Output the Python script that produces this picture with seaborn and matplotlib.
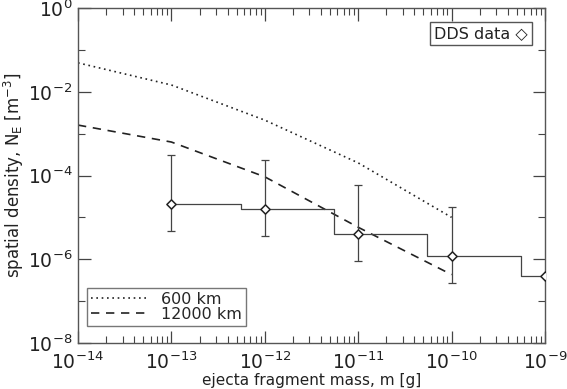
import numpy as np
import matplotlib
matplotlib.use("Agg")
import matplotlib.pyplot as plt
import matplotlib.ticker as mticker
import seaborn as sns

# model curves
model_mass = [1e-14, 1e-13, 1e-12, 1e-11, 1e-10]
dens_600km = [4.9e-2, 1.45e-2, 2.1e-3, 2.0e-4, 1.0e-5]
dens_12000km = [1.6e-3, 6.3e-4, 9.3e-5, 5.8e-6, 4.3e-7]

# DDS data points
dds_mass = [1e-13, 1e-12, 1e-11, 1e-10, 1e-9]
dds_dens = [2.1e-5, 1.6e-5, 4.0e-6, 1.18e-6, 4.0e-7]
dds_hi = [3.1e-4, 2.4e-4, 6.0e-5, 1.8e-5, 4.0e-7]
dds_lo = [4.8e-6, 3.5e-6, 8.9e-7, 2.7e-7, 4.0e-7]

# histogram steps
hist_edges = [1e-13, 5.5e-13, 5.5e-12, 5.5e-11, 5.5e-10, 1e-9]
hist_vals = [2.1e-5, 1.6e-5, 4.0e-6, 1.18e-6, 4.0e-7, 4.0e-7]

x_ticks = [1e-14, 1e-13, 1e-12, 1e-11, 1e-10, 1e-9]
y_ticks = [1e-8, 1e-6, 1e-4, 1e-2, 1]
y_minor = [1e-7, 1e-5, 1e-3, 1e-1]

sns.set_theme(style="ticks")
plt.rcParams["font.family"] = ["DejaVu Sans"]
plt.rcParams["mathtext.fontset"] = "dejavusans"

fig = plt.figure(figsize=(5.67, 3.89), dpi=100)
ax = fig.add_axes([78 / 567, 1 - 343 / 389, (545 - 78) / 567, (343 - 8) / 389])

ink = "#222222"
sns.lineplot(x=model_mass, y=dens_600km, ax=ax, color=ink, lw=1.2,
             linestyle=(0, (1, 2.2)), label="600 km")
sns.lineplot(x=model_mass, y=dens_12000km, ax=ax, color=ink, lw=1.2,
             linestyle=(0, (5, 4)), label="12000 km")

ax.plot(hist_edges, hist_vals, drawstyle="steps-post", color="#444444", lw=0.9)

yerr = [np.array(dds_dens) - np.array(dds_lo), np.array(dds_hi) - np.array(dds_dens)]
ax.errorbar(dds_mass, dds_dens, yerr=yerr, fmt="none", ecolor="#444444",
            elinewidth=0.9, capsize=3, capthick=0.9)
sns.scatterplot(x=dds_mass, y=dds_dens, ax=ax, marker="D", s=22,
                facecolor="white", edgecolor=ink, linewidth=1.1, zorder=5)

ax.set_xscale("log")
ax.set_yscale("log")
ax.set_xlim(1e-14, 1e-9)
ax.set_ylim(1e-8, 1)

ax.xaxis.set_major_locator(mticker.FixedLocator(x_ticks))
ax.xaxis.set_major_formatter(mticker.LogFormatterMathtext())
ax.xaxis.set_minor_locator(mticker.LogLocator(base=10, subs=np.arange(2, 10), numticks=20))
ax.xaxis.set_minor_formatter(mticker.NullFormatter())
ax.yaxis.set_major_locator(mticker.FixedLocator(y_ticks))
ax.yaxis.set_minor_locator(mticker.FixedLocator(y_minor))
ax.yaxis.set_minor_formatter(mticker.NullFormatter())
ax.yaxis.set_major_formatter(mticker.LogFormatterMathtext())

ax.tick_params(which="both", direction="in", top=True, right=True, colors="#444444",
               labelcolor=ink, labelsize=13.5)
ax.tick_params(which="major", length=9, width=0.9, pad=6)
ax.tick_params(axis="y", which="major", pad=4)
ax.tick_params(which="minor", length=5, width=0.8)
for sp in ax.spines.values():
    sp.set_color("#555555")
    sp.set_linewidth(1.0)

ax.set_xlabel("ejecta fragment mass, m [g]", fontsize=11, color=ink, labelpad=0)
ax.set_ylabel("spatial density, N$_\\mathrm{E}$ [m$^{-3}$]", fontsize=12, color=ink, labelpad=1)

leg = ax.legend(loc="lower left", bbox_to_anchor=(0.019, 0.051), borderaxespad=0,
                fontsize=11.5, frameon=True, fancybox=False, handlelength=3.6,
                borderpad=0.25, labelspacing=0.0, handletextpad=0.8)
leg.get_frame().set_edgecolor("#555555")
leg.get_frame().set_linewidth(1.0)

ax.text(0.963, 0.925, "DDS data \u25C7", transform=ax.transAxes, ha="right", va="center",
        fontsize=11.5, color=ink,
        bbox=dict(boxstyle="square,pad=0.25", facecolor="white", edgecolor="#555555", lw=1.0))

fig.savefig("out.png", dpi=100)
